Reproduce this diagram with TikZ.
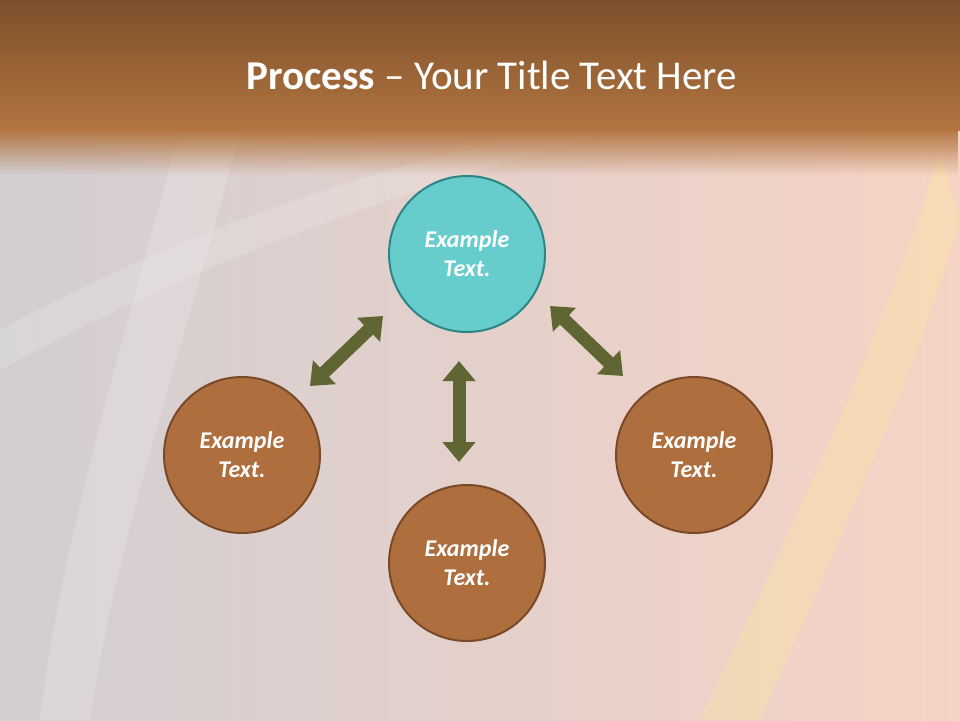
\documentclass[tikz,border=0pt]{standalone}
\usepackage{fontspec}
\setmainfont{Carlito}
\usetikzlibrary{arrows.meta,fadings}
\definecolor{teal1}{HTML}{66CCCC}
\definecolor{teal2}{HTML}{2E8585}
\definecolor{brown1}{HTML}{AE6E3E}
\definecolor{brown2}{HTML}{7A4A28}
\definecolor{arr}{HTML}{5F6633}
\definecolor{hdtop}{HTML}{7C4F2B}
\definecolor{hdbot}{HTML}{B27540}
\definecolor{bgl}{HTML}{D2CED2}
\definecolor{bgr}{HTML}{F6D3C4}
\tikzset{
  circ/.style={circle,minimum size=156pt,line width=2pt,text=white,font=\fontsize{24}{29}\selectfont\bfseries\itshape,align=center},
  tealc/.style={circ,fill=teal1,draw=teal2},
  brownc/.style={circ,fill=brown1,draw=brown2},
  dbl/.style={arr,line width=13pt,{Triangle[width=32pt,length=20pt]}-{Triangle[width=32pt,length=20pt]}}
}
\begin{document}
\begin{tikzpicture}[x=1pt,y=-1pt]
\useasboundingbox (0,0) rectangle (960,720);
\shade[left color=bgl,right color=bgr] (0,0) rectangle (960,720);
\fill[white,opacity=0.18] (180,130) .. controls (120,350) and (60,550) .. (40,720) -- (90,720) .. controls (120,520) and (190,330) .. (240,130) -- cycle;
\fill[white,opacity=0.15] (0,330) .. controls (200,220) and (400,160) .. (560,130) -- (620,130) .. controls (400,190) and (200,260) .. (0,370) -- cycle;
\fill[yellow!50,opacity=0.2] (940,150) .. controls (880,350) and (780,550) .. (700,720) -- (760,720) .. controls (840,540) and (920,360) .. (960,220) -- cycle;
\shade[top color=hdtop,bottom color=hdbot] (0,0) rectangle (960,130);
\fill[hdbot,path fading=south] (0,129) rectangle (960,175);
\node[text=white,font=\fontsize{41}{44}\selectfont] (title) at (492,75) {\textbf{Process} – Your Title Text Here};
\node[tealc] (top) at (467,254) {Example\\Text.};
\node[brownc] (left) at (242,455) {Example\\Text.};
\node[brownc] (bot) at (467,563) {Example\\Text.};
\node[brownc] (right) at (694,455) {Example\\Text.};
\coordinate (a1) at (310,386); \coordinate (a2) at (383,316);
\coordinate (b1) at (459,361); \coordinate (b2) at (459,462);
\coordinate (c1) at (550,306); \coordinate (c2) at (623,376);
\draw[dbl] (a1) -- (a2);
\draw[dbl] (b1) -- (b2);
\draw[dbl] (c1) -- (c2);
\end{tikzpicture}
\end{document}
